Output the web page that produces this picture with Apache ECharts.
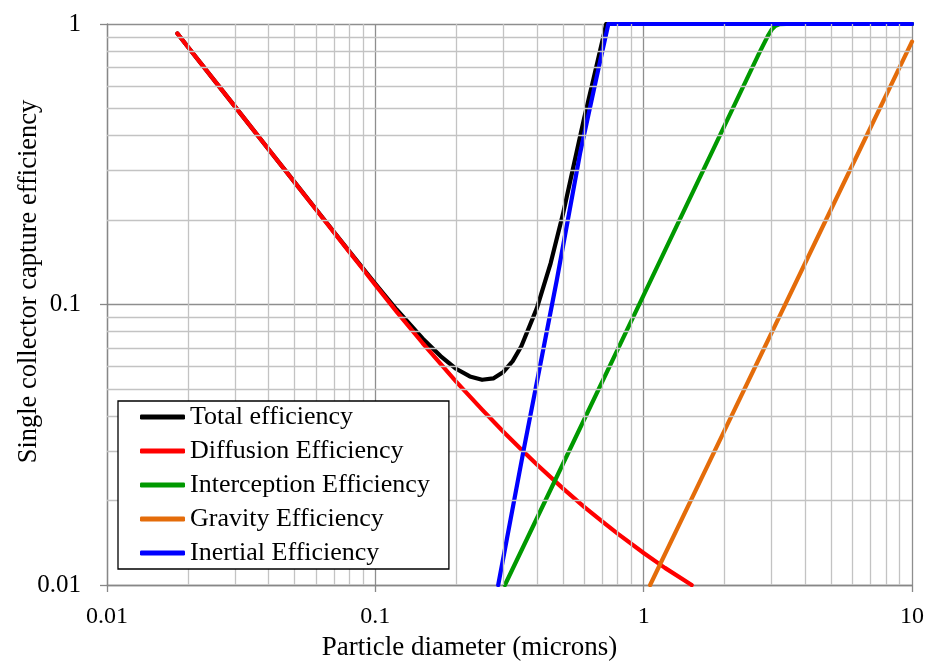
<!DOCTYPE html>
<html>
<head>
<meta charset="utf-8">
<script src="https://cdn.jsdelivr.net/npm/echarts@6/dist/echarts.min.js"></script>
<style>html,body{margin:0;padding:0;background:#fff;}#c{width:930px;height:671px;}</style>
</head>
<body>
<div id="c"></div>
<script>
// Particle diameter (microns) and efficiencies
var totalD = [0.0183,0.02,0.03,0.04,0.05,0.06,0.07,0.08,0.1,0.12,0.15,0.175,0.2,0.225,0.25,0.275,0.3,0.325,0.35,0.4,0.45,0.5,0.55,0.6,0.65,0.7,0.715,0.725,10];
var totalE = [0.925,0.830,0.5074,0.3578,0.2730,0.2189,0.1817,0.1547,0.1186,0.0960,0.0757,0.0655,0.0590,0.0554,0.0539,0.0545,0.0575,0.0628,0.0710,0.0971,0.1402,0.2096,0.3168,0.4614,0.637,0.863,0.942,1.0,1.0];

var diffD = [0.0183,0.02,0.03,0.04,0.05,0.06,0.07,0.08,0.09,0.1,0.12,0.15,0.2,0.25,0.3,0.35,0.4,0.5,0.6,0.7,0.8,1,1.2,1.51];
var diffE = [0.925,0.830,0.5073,0.3576,0.2727,0.2185,0.1812,0.1540,0.1335,0.1175,0.0943,0.0729,0.0531,0.0422,0.0352,0.0304,0.0269,0.0221,0.0190,0.01685,0.01524,0.0130,0.01151,0.0100];

var interD = [0.304,0.5,1,2,2.7,2.9,3.0,3.1,3.2,3.4,10];
var interE = [0.01,0.027,0.108,0.433,0.79,0.905,0.955,0.985,0.998,1.0,1.0];

var gravD = [1.057,2,5,10];
var gravE = [0.01,0.0355,0.219,0.865];

var inerD = [0.287,0.358,0.4744,0.5794,0.6685,0.7385,10];
var inerE = [0.01,0.0307,0.122,0.346,0.649,1.0,1.0];

var seriesNames = ['Total efficiency','Diffusion Efficiency','Interception Efficiency','Gravity Efficiency','Inertial Efficiency'];
var seriesColors = ['#000000','#ff0000','#009900','#e46c0a','#0000ff'];

var xMinorGrid = [0.02,0.03,0.04,0.05,0.06,0.07,0.08,0.09,0.2,0.3,0.4,0.5,0.6,0.7,0.8,0.9,2,3,4,5,6,7,8,9];
var yMinorGrid = [0.02,0.03,0.04,0.05,0.06,0.07,0.08,0.09,0.2,0.3,0.4,0.5,0.6,0.7,0.8,0.9];

function pairs(xs, ys){ return xs.map(function(x,i){ return [x, ys[i]]; }); }
function fmt(v){ return String(+(+v).toPrecision(3)); }

var FONT = 'Liberation Serif';
var chart = echarts.init(document.getElementById('c'), null, {renderer:'canvas'});

var mlData = xMinorGrid.map(function(v){ return {xAxis:v}; }).concat(yMinorGrid.map(function(v){ return {yAxis:v}; }));

var allD = [totalD, diffD, interD, gravD, inerD];
var allE = [totalE, diffE, interE, gravE, inerE];

var series = [{
  name:'grid', type:'line', data:[[0.01,0.01]], showSymbol:false, symbol:'none',
  lineStyle:{opacity:0}, silent:true,
  markLine:{silent:true, symbol:['none','none'], label:{show:false}, animation:false,
    lineStyle:{color:'#c3c3c3', width:1.3, type:'solid'}, emphasis:{disabled:true}, data: mlData}
}];
seriesNames.forEach(function(n,i){
  series.push({
    name:n, type:'line', data:pairs(allD[i], allE[i]), showSymbol:false, symbol:'none',
    lineStyle:{color:seriesColors[i], width:4.2, cap:'round', join:'round'},
    itemStyle:{color:seriesColors[i]}, clip:true,
    emphasis:{disabled:true}
  });
});

chart.setOption({
  animation:false,
  backgroundColor:'#fff',
  grid:{left:107, right:18, top:24, bottom:86, containLabel:false, outerBoundsMode:'none'},
  legend:{
    data:seriesNames, orient:'vertical', left:118, top:401, z:20,
    backgroundColor:'#fff', borderColor:'#000', borderWidth:1.3,
    padding:[3,19,3,22], itemGap:8, itemWidth:45, itemHeight:5, icon:'roundRect',
    textStyle:{fontFamily:FONT, fontSize:26, color:'#000'}
  },
  xAxis:{
    type:'log', logBase:10, min:0.01, max:10,
    name:'Particle diameter (microns)', nameLocation:'middle', nameGap:49, nameMoveOverlap:false,
    nameTextStyle:{fontFamily:FONT, fontSize:27, color:'#000', padding:[0,80,0,0]},
    axisLine:{show:true, onZero:false, lineStyle:{color:'#878787', width:1.3}},
    axisTick:{show:true, length:7, lineStyle:{color:'#878787', width:1.3}},
    axisLabel:{fontFamily:FONT, fontSize:24, color:'#000', margin:20, formatter:fmt},
    splitLine:{show:true, lineStyle:{color:'#8e8e8e', width:1.3}},
    minorTick:{show:false}, minorSplitLine:{show:false}
  },
  yAxis:{
    type:'log', logBase:10, min:0.01, max:1,
    name:'Single collector capture efficiency', nameLocation:'middle', nameGap:64, nameRotate:90, nameMoveOverlap:false,
    nameTextStyle:{fontFamily:FONT, fontSize:26.5, color:'#000', padding:[0,0,0,46]},
    axisLine:{show:true, onZero:false, lineStyle:{color:'#878787', width:1.3}},
    axisTick:{show:true, length:7, lineStyle:{color:'#878787', width:1.3}},
    axisLabel:{fontFamily:FONT, fontSize:25, color:'#000', margin:26, formatter:fmt},
    splitLine:{show:true, lineStyle:{color:'#8e8e8e', width:1.3}},
    minorTick:{show:false}, minorSplitLine:{show:false}
  },
  series:series
});
</script>
</body>
</html>
